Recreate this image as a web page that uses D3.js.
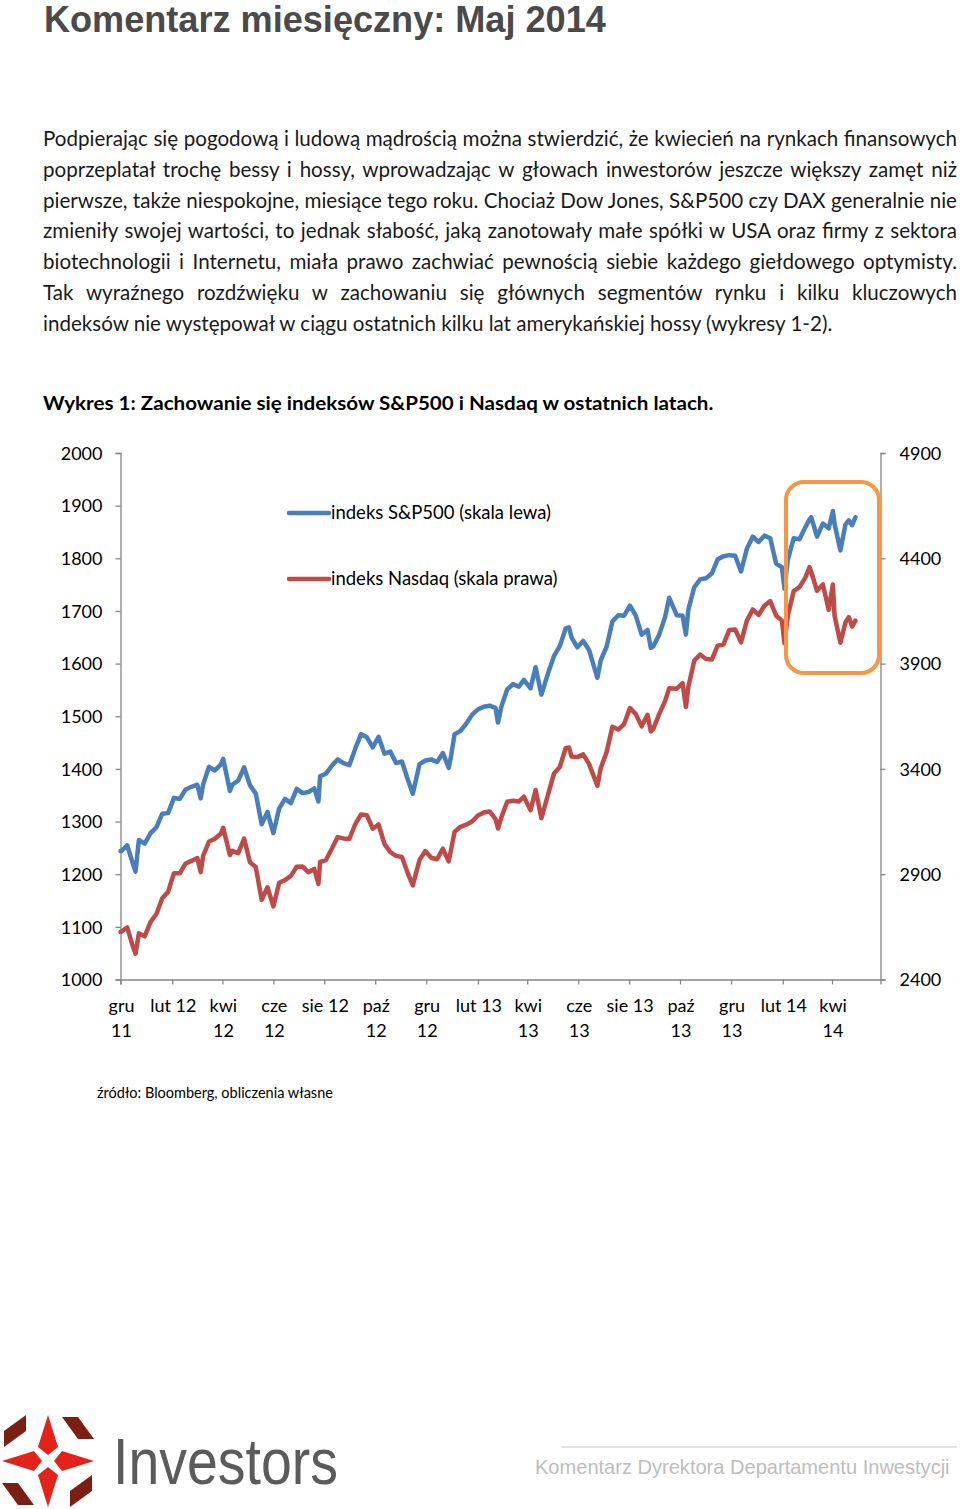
<!DOCTYPE html>
<html><head><meta charset="utf-8">
<script src="https://cdn.jsdelivr.net/npm/d3@7"></script>
<style>
html,body{margin:0;padding:0;background:#fff;}
svg{display:block;}
</style></head>
<body>
<svg id="page" width="960" height="1509"></svg>
<script>
// ---------- DATA ----------
const dates = ["2011-12-01","2011-12-02","2011-12-09","2011-12-16","2011-12-19","2011-12-23","2011-12-30",
"2012-01-06","2012-01-13","2012-01-20","2012-01-27","2012-02-03","2012-02-10","2012-02-17","2012-02-24",
"2012-03-02","2012-03-06","2012-03-09","2012-03-16","2012-03-23","2012-03-30","2012-04-02","2012-04-10",
"2012-04-13","2012-04-20","2012-04-27","2012-05-04","2012-05-11","2012-05-18","2012-05-25","2012-06-01",
"2012-06-08","2012-06-15","2012-06-22","2012-06-29","2012-07-06","2012-07-13","2012-07-20","2012-07-25",
"2012-07-27","2012-08-03","2012-08-10","2012-08-17","2012-08-24","2012-08-31","2012-09-07","2012-09-14",
"2012-09-21","2012-09-28","2012-10-05","2012-10-12","2012-10-19","2012-10-26","2012-11-02","2012-11-09",
"2012-11-15","2012-11-23","2012-11-30","2012-12-07","2012-12-14","2012-12-21","2012-12-28","2012-12-31",
"2013-01-04","2013-01-11","2013-01-18","2013-01-25","2013-02-01","2013-02-08","2013-02-15","2013-02-22",
"2013-02-25","2013-03-01","2013-03-08","2013-03-15","2013-03-22","2013-03-28","2013-04-05","2013-04-11",
"2013-04-18","2013-04-26","2013-05-03","2013-05-10","2013-05-17","2013-05-21","2013-05-24","2013-05-31",
"2013-06-07","2013-06-14","2013-06-24","2013-06-28","2013-07-05","2013-07-12","2013-07-19","2013-07-26",
"2013-08-02","2013-08-09","2013-08-16","2013-08-23","2013-08-27","2013-08-30","2013-09-06","2013-09-13",
"2013-09-18","2013-09-27","2013-10-04","2013-10-08","2013-10-11","2013-10-18","2013-10-25","2013-11-01",
"2013-11-08","2013-11-15","2013-11-22","2013-11-29","2013-12-06","2013-12-13","2013-12-20","2013-12-27",
"2014-01-03","2014-01-10","2014-01-17","2014-01-24","2014-01-31","2014-02-03","2014-02-07","2014-02-14",
"2014-02-21","2014-02-28","2014-03-05","2014-03-07","2014-03-14","2014-03-21","2014-03-28","2014-04-02",
"2014-04-04","2014-04-11","2014-04-17","2014-04-21","2014-04-25","2014-04-29"];

const sp500 = [1244,1244,1255,1219,1205,1265,1258,
1278,1289,1315,1316,1345,1343,1361,1366,
1370,1344,1371,1404,1397,1408,1419,1358,
1370,1378,1403,1369,1353,1295,1318,1278,
1325,1343,1335,1362,1354,1356,1363,1338,
1386,1391,1406,1418,1411,1407,1438,1466,
1460,1441,1461,1429,1433,1411,1414,1380,
1353,1409,1416,1418,1413,1430,1402,1426,
1466,1472,1486,1503,1513,1518,1520,1516,
1488,1518,1551,1561,1556,1569,1553,1593,
1541,1582,1614,1633,1667,1669,1650,1631,
1643,1626,1573,1606,1632,1680,1692,1691,
1710,1691,1655,1664,1630,1633,1655,1688,
1725,1692,1691,1655,1703,1745,1760,1762,
1771,1798,1804,1806,1805,1775,1818,1841,
1831,1843,1838,1790,1783,1742,1797,1838,
1836,1859,1874,1878,1841,1866,1857,1890,
1865,1815,1864,1872,1863,1878];

const nasdaq = [2626,2627,2647,2555,2523,2619,2605,
2674,2711,2786,2816,2905,2904,2951,2963,
2977,2910,2988,3055,3068,3092,3120,2991,
3011,3000,3069,2957,2934,2778,2838,2747,
2859,2872,2892,2935,2937,2909,2925,2854,
2958,2967,3021,3076,3070,3067,3136,3184,
3180,3116,3136,3044,3005,2987,2982,2904,
2847,2967,3010,2978,2971,3021,2961,3020,
3101,3125,3135,3150,3179,3193,3198,3162,
3117,3170,3244,3249,3245,3268,3204,3300,
3166,3279,3378,3409,3498,3502,3459,3456,
3469,3424,3320,3403,3479,3600,3587,3613,
3689,3660,3602,3657,3578,3590,3660,3722,
3783,3781,3807,3694,3791,3914,3943,3922,
3919,3985,3991,4060,4062,4001,4104,4157,
4131,4175,4197,4128,4104,3997,4126,4244,
4263,4308,4358,4336,4246,4276,4155,4276,
4127,3999,4095,4121,4076,4104];

const leftTicks = [1000,1100,1200,1300,1400,1500,1600,1700,1800,1900,2000];
const rightTicks = [2400,2900,3400,3900,4400,4900];
const xTickDates = ["2011-12-01","2012-02-01","2012-04-01","2012-06-01","2012-08-01","2012-10-01","2012-12-01",
"2013-02-01","2013-04-01","2013-06-01","2013-08-01","2013-10-01","2013-12-01","2014-02-01","2014-04-01"];
const xTickLabels = [["gru","11"],["lut 12"],["kwi","12"],["cze","12"],["sie 12"],["paź","12"],["gru","12"],
["lut 13"],["kwi","13"],["cze","13"],["sie 13"],["paź","13"],["gru","13"],["lut 14"],["kwi","14"]];
const seriesNames = ["indeks S&P500 (skala lewa)","indeks Nasdaq (skala prawa)"];

const titleText = "Komentarz miesięczny: Maj 2014";
const paragraphLines = [
"Podpierając się pogodową i ludową mądrością można stwierdzić, że kwiecień na rynkach finansowych",
"poprzeplatał trochę bessy i hossy, wprowadzając w głowach inwestorów jeszcze większy zamęt niż",
"pierwsze, także niespokojne, miesiące tego roku. Chociaż Dow Jones, S&P500 czy DAX generalnie nie",
"zmieniły swojej wartości, to jednak słabość, jaką zanotowały małe spółki w USA oraz firmy z sektora",
"biotechnologii i Internetu, miała prawo zachwiać pewnością siebie każdego giełdowego optymisty.",
"Tak wyraźnego rozdźwięku w zachowaniu się głównych segmentów rynku i kilku kluczowych",
"indeksów nie występował w ciągu ostatnich kilku lat amerykańskiej hossy (wykresy 1-2)."];
const chartTitle = "Wykres 1: Zachowanie się indeksów S&P500 i Nasdaq w ostatnich latach.";
const sourceText = "źródło: Bloomberg, obliczenia własne";
const footerBrand = "Investors";
const footerRight = "Komentarz Dyrektora Departamentu Inwestycji";

// ---------- DRAW ----------
const svg = d3.select("#page");
const parse = d3.timeParse("%Y-%m-%d");
const BODY = "Lato, 'Open Sans', sans-serif";
const NARROW = "'Liberation Sans Narrow','Liberation Sans',Arial,sans-serif";
const AXCOL = "#868686";

// helper: place text and squeeze horizontally to a target width
function fitText(sel, x0, y0, w){
  const len = sel.node().getComputedTextLength();
  sel.attr("x",0).attr("y",0).attr("transform",`translate(${x0},${y0}) scale(${w/len},1)`);
  return sel;
}

// Title
fitText(svg.append("text")
  .attr("font-family",NARROW).attr("font-weight","bold").attr("font-size",37).attr("fill","#4a4a4a")
  .text(titleText), 44, 32, 562);

// Paragraph (justified using word spacing)
const pg = svg.append("g").attr("font-family",BODY).attr("fill","#1a1a1a");
// choose font size so that the last (unjustified) line ends where it does in the picture
const probe = pg.append("text").attr("font-size",20).text(paragraphLines[paragraphLines.length-1]);
const fs = 20 * 790 / probe.node().getComputedTextLength();
probe.remove();
pg.attr("font-size", fs);
paragraphLines.forEach((t,i)=>{
  const tx = pg.append("text").attr("x",43).attr("y",146 + i*30.8).text(t);
  if(i < paragraphLines.length-1){
    const w = tx.node().getComputedTextLength();
    const spaces = (t.match(/ /g)||[]).length;
    tx.attr("word-spacing", (914 - w)/spaces);
  }
});

// Chart title
fitText(svg.append("text")
  .attr("font-family",BODY).attr("font-weight","bold").attr("font-size",19).attr("fill","#000")
  .text(chartTitle), 43, 410, 671);

// Scales
const x = d3.scaleTime().domain([parse("2011-12-01"), parse("2014-05-29")]).range([120.5, 880.5]);
const yL = d3.scaleLinear().domain([1000,2000]).range([979.5, 453]);
const yR = d3.scaleLinear().domain([2400,4900]).range([979.5, 453]);

const chart = svg.append("g");

// Axes
const leftAxis = chart.append("g").attr("transform","translate(120.5,0)")
  .call(d3.axisLeft(yL).tickValues(leftTicks).tickSize(5).tickFormat(d3.format("d")));
const rightAxis = chart.append("g").attr("transform","translate(880.5,0)")
  .call(d3.axisRight(yR).tickValues(rightTicks).tickSize(5).tickFormat(d3.format("d")));
const bottomAxis = chart.append("g").attr("transform","translate(0,979.5)")
  .call(d3.axisBottom(x).tickValues(xTickDates.map(parse)).tickSize(5).tickFormat(""));

[leftAxis,rightAxis,bottomAxis].forEach(a=>{
  a.select(".domain").attr("stroke",AXCOL).attr("stroke-width",1.3);
  a.selectAll(".tick line").attr("stroke",AXCOL).attr("stroke-width",1.3);
  a.selectAll("text").attr("font-family",BODY).attr("font-size",18).attr("fill","#000");
});
leftAxis.selectAll(".tick text").attr("x",-18).attr("dy","0.35em");
rightAxis.selectAll(".tick text").attr("x",19).attr("dy","0.35em");

// X labels (multi-line)
const xl = chart.append("g").attr("font-family",BODY).attr("font-size",18).attr("fill","#000").attr("text-anchor","middle");
xTickDates.forEach((d,i)=>{
  xTickLabels[i].forEach((ln,j)=>{
    xl.append("text").attr("x",x(parse(d))+1).attr("y",1012 + j*25).text(ln);
  });
});

// Lines
const dataSP = dates.map((d,i)=>({date:parse(d), v:sp500[i]}));
const dataNQ = dates.map((d,i)=>({date:parse(d), v:nasdaq[i]}));
const BLUE = "#4A7EBB", RED = "#BE4B48";
chart.append("path").datum(dataNQ)
  .attr("fill","none").attr("stroke",RED).attr("stroke-width",4.5).attr("stroke-linejoin","round").attr("stroke-linecap","round")
  .attr("d", d3.line().x(d=>x(d.date)).y(d=>yR(d.v)));
chart.append("path").datum(dataSP)
  .attr("fill","none").attr("stroke",BLUE).attr("stroke-width",4.5).attr("stroke-linejoin","round").attr("stroke-linecap","round")
  .attr("d", d3.line().x(d=>x(d.date)).y(d=>yL(d.v)));

// Legend
const lg = chart.append("g").attr("font-family",BODY).attr("font-size",18.5);
[[BLUE,513],[RED,579]].forEach((c,i)=>{
  lg.append("line").attr("x1",289).attr("x2",329).attr("y1",c[1]).attr("y2",c[1])
    .attr("stroke",c[0]).attr("stroke-width",4.5).attr("stroke-linecap","round");
  lg.append("text").attr("x",331).attr("y",c[1]+6).attr("fill","#000").text(seriesNames[i]);
});

// Orange highlight box
chart.append("rect").attr("x",786).attr("y",482).attr("width",93).attr("height",191)
  .attr("rx",18).attr("ry",18).attr("fill","none").attr("stroke","#F79646").attr("stroke-width",4);

// Source
svg.append("text").attr("x",97).attr("y",1098).attr("font-family",BODY).attr("font-size",14.5).attr("fill","#000").text(sourceText);

// Footer logo
const logo = svg.append("g").attr("transform","translate(48,1461)");
const RED2 = "#E2231A", DARK = "#7A1F12";
logo.append("polygon").attr("points","0,-46 -10,-14 0,-6 10,-14").attr("fill",RED2);
logo.append("polygon").attr("points","0,46 -10,14 0,6 10,14").attr("fill",RED2);
logo.append("polygon").attr("points","-46,0 -14,-10 -6,0 -14,10").attr("fill",RED2);
logo.append("polygon").attr("points","46,0 14,-10 6,0 14,10").attr("fill",RED2);
logo.append("polygon").attr("points","14,-44 30,-44 46,-22 30,-22").attr("fill",DARK);
logo.append("polygon").attr("points","-14,44 -30,44 -46,22 -30,22").attr("fill",DARK);
logo.append("polygon").attr("points","44,14 44,30 22,46 22,30").attr("fill",DARK);
logo.append("polygon").attr("points","-44,-14 -44,-30 -22,-46 -22,-30").attr("fill",DARK);

fitText(svg.append("text").attr("font-family",NARROW).attr("font-size",64).attr("fill","#5b5b5b")
  .text(footerBrand), 113, 1484, 225);

svg.append("line").attr("x1",562).attr("x2",957).attr("y1",1447).attr("y2",1447).attr("stroke","#d9d9d9").attr("stroke-width",1.5);
fitText(svg.append("text").attr("font-family",NARROW).attr("font-size",20).attr("fill","#bdbdbd")
  .text(footerRight), 535, 1474, 415);
</script>
</body></html>
